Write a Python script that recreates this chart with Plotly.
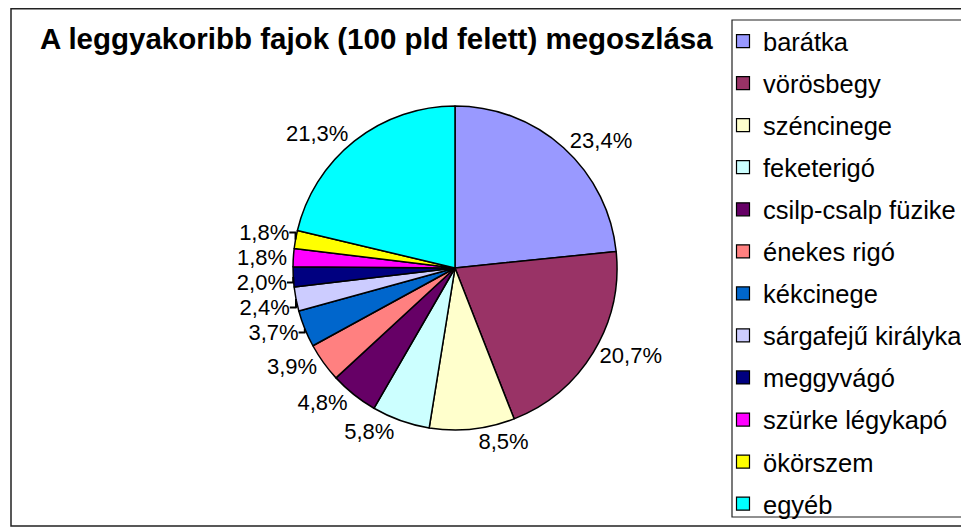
import plotly.graph_objects as go

species = ["barátka", "vörösbegy", "széncinege", "feketerigó", "csilp-csalp füzike",
           "énekes rigó", "kékcinege", "sárgafejű királyka", "meggyvágó",
           "szürke légykapó", "ökörszem", "egyéb"]
shares = [23.4, 20.7, 8.5, 5.8, 4.8, 3.9, 3.7, 2.4, 2.0, 1.8, 1.8, 21.3]
colors = ["#9999FF", "#993366", "#FFFFCC", "#CCFFFF", "#660066", "#FF8080",
          "#0066CC", "#CCCCFF", "#000080", "#FF00FF", "#FFFF00", "#00FFFF"]
title = "A leggyakoribb fajok (100 pld felett) megoszlása"

W, H = 969, 529
labels_txt = [f"{v:.1f}%".replace(".", ",") for v in shares]

fig = go.Figure()
fig.add_trace(go.Pie(
    labels=species, values=shares, sort=False, direction="clockwise", rotation=0,
    marker=dict(colors=colors, line=dict(color="black", width=1.5)),
    text=labels_txt, textinfo="text", textposition="outside",
    textfont=dict(family="Liberation Sans, Arial", size=22, color="black"),
    showlegend=False, hoverinfo="label+percent",
    domain=dict(x=[285 / W, 609 / W], y=[1 - 422 / H, 1 - 98 / H]),
))

for i, (name, c) in enumerate(zip(species, colors)):
    fig.add_trace(go.Scatter(
        x=[None], y=[None], mode="markers", name=name, legendgroup=f"g{i}",
        marker=dict(symbol="square", size=13, color=c, line=dict(color="black", width=1.2)),
        showlegend=True,
    ))

fig.update_layout(
    width=W, height=H, margin=dict(l=0, r=0, t=0, b=0),
    paper_bgcolor="white", plot_bgcolor="white",
    xaxis=dict(visible=False), yaxis=dict(visible=False),
    font=dict(family="Liberation Sans, Arial", color="black"),
    legend=dict(x=715 / W, y=1 - 10 / H, xanchor="left", yanchor="top",
                borderwidth=0, bgcolor="rgba(0,0,0,0)",
                font=dict(size=25.5), traceorder="grouped", tracegroupgap=5.9,
                itemsizing="trace"),
    shapes=[
        dict(type="rect", xref="paper", yref="paper",
             x0=3 / W, x1=1.02, y0=1 - 518 / H, y1=1 - 0.7 / H,
             line=dict(color="#222", width=1.5)),
        dict(type="rect", xref="paper", yref="paper",
             x0=724 / W, x1=1.02, y0=1 - 509 / H, y1=1 - 12 / H,
             line=dict(color="#222", width=1.2)),
    ],
    annotations=[dict(text=f"<b>{title}</b>", xref="paper", yref="paper",
                      x=30 / W, y=1 - 30.5 / H, xanchor="left", yanchor="middle",
                      showarrow=False, font=dict(size=29.5, color="black"))],
)

fig.write_html("out.html")
